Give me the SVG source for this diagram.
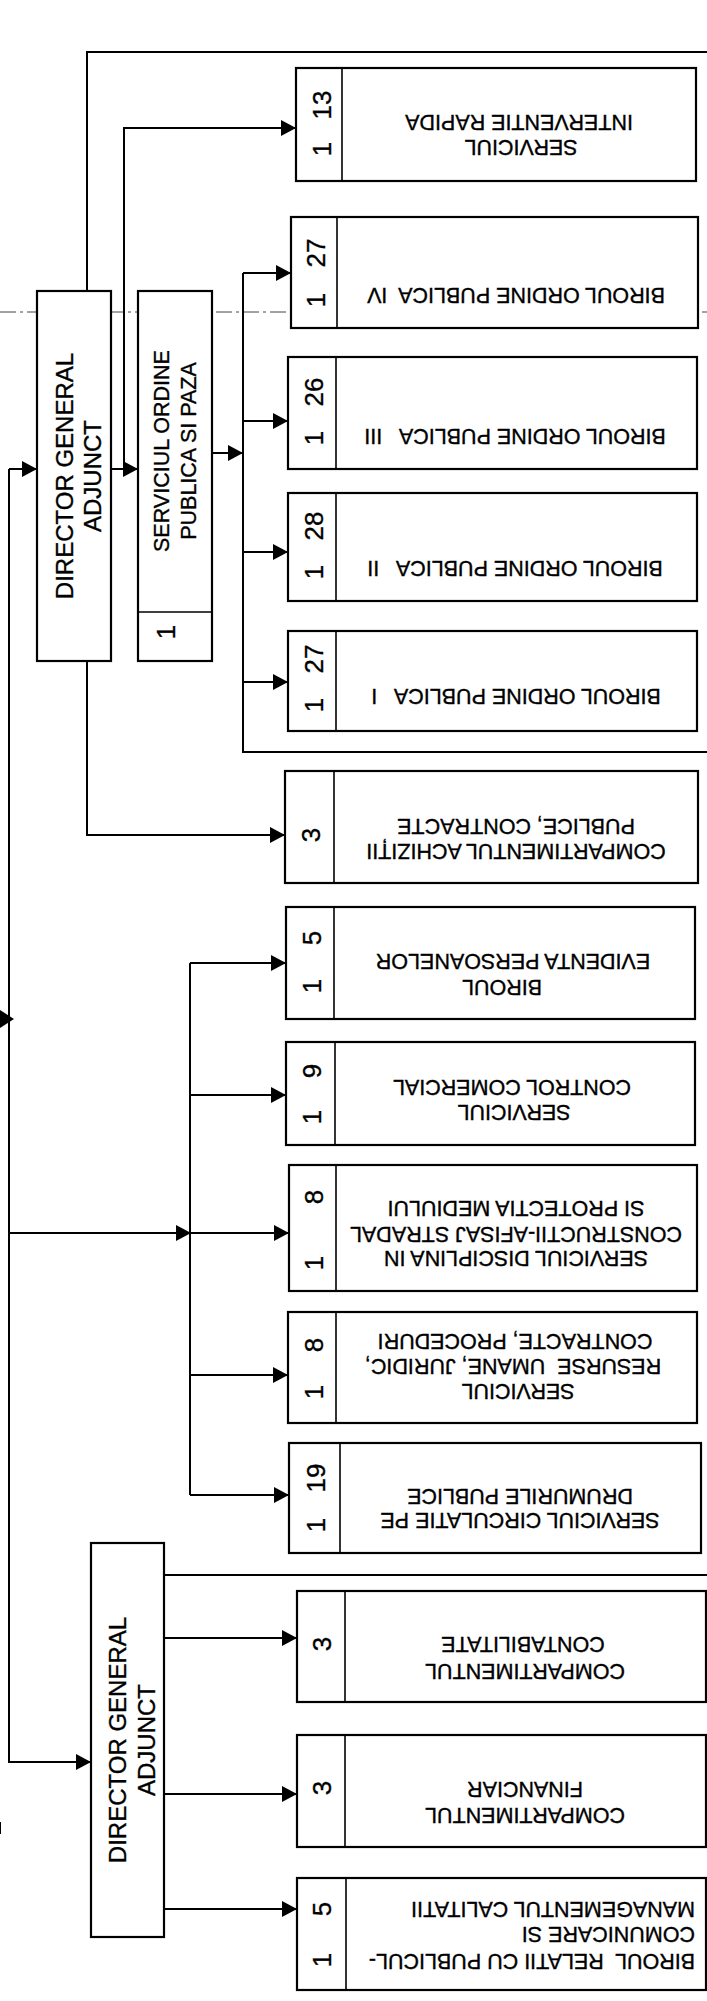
<svg xmlns="http://www.w3.org/2000/svg" width="707" height="2001" viewBox="0 0 707 2001">
<defs>
<marker id="ah" markerUnits="userSpaceOnUse" markerWidth="16" markerHeight="16" refX="15" refY="8" orient="auto">
<path d="M0,0 L15,8 L0,16 Z" fill="#000"/>
</marker>
<style>
.box{fill:#fff;stroke:#000;stroke-width:2.2}
.div{stroke:#000;stroke-width:1.6}
.c{fill:none;stroke:#000;stroke-width:2}
.a{fill:none;stroke:#000;stroke-width:2;marker-end:url(#ah)}
.t{font-family:"Liberation Sans",Arial,sans-serif;font-size:21.5px;fill:#000;stroke:#000;stroke-width:0.35;text-anchor:middle}
.ts{font-family:"Liberation Sans",Arial,sans-serif;font-size:21.5px;fill:#000;stroke:#000;stroke-width:0.35;text-anchor:start}
.n{font-family:"Liberation Sans",Arial,sans-serif;font-size:26px;fill:#000;stroke:#000;stroke-width:0.35;text-anchor:middle}
.tb{font-family:"Liberation Sans",Arial,sans-serif;font-size:24px;fill:#000;stroke:#000;stroke-width:0.35;text-anchor:middle}
.dash{stroke:#444;stroke-width:1;stroke-dasharray:16 4 3 4}
</style>
</defs>
<rect x="0" y="0" width="707" height="2001" fill="#fff"/>
<line class="dash" x1="0" y1="312" x2="707" y2="312"/>

<g id="connectors">
<path class="c" d="M87,291 V52 H707"/>
<path class="a" d="M111,469 H138"/>
<path class="a" d="M124,469 V128 H296"/>
<path class="a" d="M212,453 H243"/>
<path class="c" d="M243,273 V752 H707"/>
<path class="a" d="M243,273 H291"/>
<path class="a" d="M243,421 H288"/>
<path class="a" d="M243,552 H288"/>
<path class="a" d="M243,682 H288"/>
<path class="a" d="M87,661 V835 H285"/>
<path class="a" d="M9,469 H37"/>
<path class="a" d="M9,469 V1762 H91"/>
<path class="a" d="M9,1233 H191"/>
<path class="a" d="M190,1233 H289"/>
<path class="c" d="M190,963 V1495"/>
<path class="a" d="M190,963 H286"/>
<path class="a" d="M190,1095 H286"/>
<path class="a" d="M190,1375 H288"/>
<path class="a" d="M190,1495 H289"/>
<path class="c" d="M164,1575 H707"/>
<path class="a" d="M164,1638 H297"/>
<path class="a" d="M164,1794 H297"/>
<path class="a" d="M164,1909 H297"/>
<path d="M0,1010 L14,1019 L0,1028 Z" fill="#000"/>
<line x1="0" y1="1822" x2="0" y2="1834" stroke="#000" stroke-width="2"/>
</g>

<g id="director1">
<rect class="box" x="37" y="291" width="74" height="370"/>
<text class="tb" x="64" y="484.5" transform="rotate(-90 64 476)">DIRECTOR GENERAL</text>
<text class="tb" x="92" y="484.5" transform="rotate(-90 92 476)">ADJUNCT</text>
</g>

<g id="serviciul-ordine">
<rect class="box" x="138" y="291" width="74" height="370"/>
<line class="div" x1="138" y1="612" x2="212" y2="612"/>
<text class="t" x="161" y="458.7" transform="rotate(-90 161 451)">SERVICIUL ORDINE</text>
<text class="t" x="188" y="458.7" transform="rotate(-90 188 451)">PUBLICA SI PAZA</text>
<text class="n" x="166" y="641.3" transform="rotate(-90 166 632)">1</text>
</g>

<g id="interventie">
<rect class="box" x="296" y="68" width="400" height="113"/>
<line class="div" x1="342" y1="68" x2="342" y2="181"/>
<text class="n" x="322" y="158.3" transform="rotate(-90 322 149)">1</text>
<text class="n" x="322" y="114.3" transform="rotate(-90 322 105)">13</text>
<text class="t" x="521" y="155.7" transform="rotate(180 521 148)">SERVICIUL</text>
<text class="t" x="519" y="130.7" transform="rotate(180 519 123)">INTERVENTIE RAPIDA</text>
</g>

<g id="birou-op-4">
<rect class="box" x="291" y="217" width="407" height="111"/>
<line class="div" x1="337" y1="217" x2="337" y2="328"/>
<text class="n" x="316" y="309.3" transform="rotate(-90 316 300)">1</text>
<text class="n" x="316" y="262.3" transform="rotate(-90 316 253)">27</text>
<text class="t" x="516" y="303.7" transform="rotate(180 516 296)" xml:space="preserve">BIROUL ORDINE PUBLICA  IV</text>
</g>

<g id="birou-op-3">
<rect class="box" x="288" y="357" width="409" height="112"/>
<line class="div" x1="336" y1="357" x2="336" y2="469"/>
<text class="n" x="314" y="447.3" transform="rotate(-90 314 438)">1</text>
<text class="n" x="314" y="401.3" transform="rotate(-90 314 392)">26</text>
<text class="t" x="515" y="444.7" transform="rotate(180 515 437)" xml:space="preserve">BIROUL ORDINE PUBLICA   III</text>
</g>

<g id="birou-op-2">
<rect class="box" x="288" y="493" width="409" height="108"/>
<line class="div" x1="336" y1="493" x2="336" y2="601"/>
<text class="n" x="314" y="581.3" transform="rotate(-90 314 572)">1</text>
<text class="n" x="314" y="535.3" transform="rotate(-90 314 526)">28</text>
<text class="t" x="515" y="576.7" transform="rotate(180 515 569)" xml:space="preserve">BIROUL ORDINE PUBLICA   II</text>
</g>

<g id="birou-op-1">
<rect class="box" x="288" y="631" width="409" height="100"/>
<line class="div" x1="336" y1="631" x2="336" y2="731"/>
<text class="n" x="314" y="714.3" transform="rotate(-90 314 705)">1</text>
<text class="n" x="314" y="668.3" transform="rotate(-90 314 659)">27</text>
<text class="t" x="516" y="704.7" transform="rotate(180 516 697)" xml:space="preserve">BIROUL ORDINE PUBLICA   I</text>
</g>

<g id="achizitii">
<rect class="box" x="285" y="771" width="413" height="112"/>
<line class="div" x1="334" y1="771" x2="334" y2="883"/>
<text class="n" x="311" y="844.3" transform="rotate(-90 311 835)">3</text>
<text class="t" x="516" y="859.7" transform="rotate(180 516 852)">COMPARTIMENTUL ACHIZIȚII</text>
<text class="t" x="516" y="834.7" transform="rotate(180 516 827)">PUBLICE, CONTRACTE</text>
</g>

<g id="evidenta">
<rect class="box" x="286" y="907" width="409" height="112"/>
<line class="div" x1="334" y1="907" x2="334" y2="1019"/>
<text class="n" x="312" y="995.3" transform="rotate(-90 312 986)">1</text>
<text class="n" x="312" y="947.3" transform="rotate(-90 312 938)">5</text>
<text class="t" x="502" y="995.7" transform="rotate(180 502 988)">BIROUL</text>
<text class="t" x="513" y="969.7" transform="rotate(180 513 962)">EVIDENTA PERSOANELOR</text>
</g>

<g id="control">
<rect class="box" x="286" y="1042" width="409" height="103"/>
<line class="div" x1="335" y1="1042" x2="335" y2="1145"/>
<text class="n" x="312" y="1126.3" transform="rotate(-90 312 1117)">1</text>
<text class="n" x="312" y="1080.3" transform="rotate(-90 312 1071)">9</text>
<text class="t" x="514" y="1120.7" transform="rotate(180 514 1113)">SERVICIUL</text>
<text class="t" x="512" y="1095.7" transform="rotate(180 512 1088)">CONTROL COMERCIAL</text>
</g>

<g id="disciplina">
<rect class="box" x="289" y="1165" width="408" height="126"/>
<line class="div" x1="336" y1="1165" x2="336" y2="1291"/>
<text class="n" x="314" y="1272.3" transform="rotate(-90 314 1263)">1</text>
<text class="n" x="314" y="1206.3" transform="rotate(-90 314 1197)">8</text>
<text class="t" x="516" y="1266.7" transform="rotate(180 516 1259)">SERVICIUL DISCIPLINA IN</text>
<text class="t" x="516" y="1242.7" transform="rotate(180 516 1235)">CONSTRUCTII-AFISAJ STRADAL</text>
<text class="t" x="516" y="1216.7" transform="rotate(180 516 1209)">SI PROTECTIA MEDIULUI</text>
</g>

<g id="resurse">
<rect class="box" x="288" y="1312" width="409" height="111"/>
<line class="div" x1="336" y1="1312" x2="336" y2="1423"/>
<text class="n" x="314" y="1401.3" transform="rotate(-90 314 1392)">1</text>
<text class="n" x="314" y="1354.3" transform="rotate(-90 314 1345)">8</text>
<text class="t" x="518" y="1399.7" transform="rotate(180 518 1392)">SERVICIUL</text>
<text class="t" x="513" y="1374.7" transform="rotate(180 513 1367)" xml:space="preserve">RESURSE  UMANE, JURIDIC,</text>
<text class="t" x="515" y="1349.7" transform="rotate(180 515 1342)">CONTRACTE, PROCEDURI</text>
</g>

<g id="circulatie">
<rect class="box" x="289" y="1443" width="412" height="110"/>
<line class="div" x1="340" y1="1443" x2="340" y2="1553"/>
<text class="n" x="316" y="1534.3" transform="rotate(-90 316 1525)">1</text>
<text class="n" x="316" y="1487.3" transform="rotate(-90 316 1478)">19</text>
<text class="t" x="520" y="1528.7" transform="rotate(180 520 1521)">SERVICIUL CIRCULATIE PE</text>
<text class="t" x="520" y="1504.7" transform="rotate(180 520 1497)">DRUMURILE PUBLICE</text>
</g>

<g id="director2">
<rect class="box" x="91" y="1543" width="73" height="394"/>
<text class="tb" x="117" y="1748.5" transform="rotate(-90 117 1740)">DIRECTOR GENERAL</text>
<text class="tb" x="146" y="1748.5" transform="rotate(-90 146 1740)">ADJUNCT</text>
</g>

<g id="contabilitate">
<rect class="box" x="297" y="1591" width="409" height="111"/>
<line class="div" x1="345" y1="1591" x2="345" y2="1702"/>
<text class="n" x="322" y="1653.3" transform="rotate(-90 322 1644)">3</text>
<text class="t" x="525" y="1679.7" transform="rotate(180 525 1672)">COMPARTIMENTUL</text>
<text class="t" x="523" y="1652.7" transform="rotate(180 523 1645)">CONTABILITATE</text>
</g>

<g id="financiar">
<rect class="box" x="297" y="1735" width="409" height="112"/>
<line class="div" x1="345" y1="1735" x2="345" y2="1847"/>
<text class="n" x="322" y="1797.3" transform="rotate(-90 322 1788)">3</text>
<text class="t" x="525" y="1823.7" transform="rotate(180 525 1816)">COMPARTIMENTUL</text>
<text class="t" x="525" y="1797.7" transform="rotate(180 525 1790)">FINANCIAR</text>
</g>

<g id="relatii">
<rect class="box" x="297" y="1878" width="409" height="112"/>
<line class="div" x1="346" y1="1878" x2="346" y2="1990"/>
<text class="n" x="322" y="1969.3" transform="rotate(-90 322 1960)">1</text>
<text class="n" x="322" y="1918.3" transform="rotate(-90 322 1909)">5</text>
<text class="ts" x="695" y="1969.7" transform="rotate(180 695 1962)" xml:space="preserve">BIROUL  RELATII CU PUBLICUL-</text>
<text class="ts" x="695" y="1942.7" transform="rotate(180 695 1935)">COMUNICARE SI</text>
<text class="ts" x="695" y="1917.7" transform="rotate(180 695 1910)">MANAGEMENTUL CALITATII</text>
</g>
</svg>
